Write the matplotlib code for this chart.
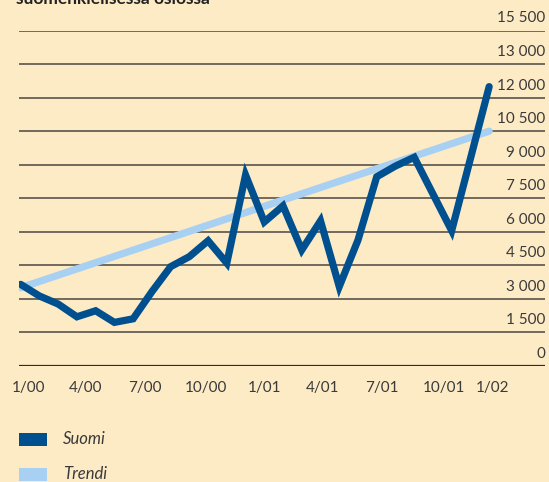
"""Suomi vs. trend line chart on a beige background."""

import matplotlib

matplotlib.use("Agg")

import matplotlib.pyplot as plt
import matplotlib.transforms as mtransforms
from matplotlib.patches import Rectangle


TITLE = "suomenkielisessä osiossa"

# monthly values, 1/00 .. 2/02
SUOMI = [
    3650, 3130, 2770, 2200, 2470, 1950, 2110, 3320, 4440, 4890, 5600, 4600, 8540,
    6440, 7160, 5190, 6490, 3550, 5630, 8460, 8940, 9330, 7690, 6050, 9270, 12490,
]

TREND_START = 3500
TREND_END = 10500

Y_TICKS = [0, 1500, 3000, 4500, 6000, 7500, 9000, 10500, 12000, 13500, 15000]
Y_LABELS = ["0", "1 500", "3 000", "4 500", "6 000", "7 500", "9 000",
            "10 500", "12 000", "13 000", "15 500"]

X_LABELS = ["1/00", "4/00", "7/00", "10/00", "1/01", "4/01", "7/01", "10/01", "1/02"]
X_LABEL_POS = [0.44, 3.44, 6.63, 9.89, 13.0, 16.1, 19.3, 22.6, 25.2]

BG = "#FDEBC6"
DARK = "#00508F"
LIGHT = "#A8D0F2"
TEXT = "#3A3A3A"

plt.rcParams["font.family"] = ["Lato", "DejaVu Sans"]

fig = plt.figure(figsize=(5.49, 4.82), dpi=100)
fig.patch.set_facecolor(BG)

ax = fig.add_axes([19 / 549, 116 / 482, 526 / 549, 335.5 / 482])
ax.set_facecolor(BG)
ax.set_xlim(-0.09, 27.98)
ax.set_ylim(0, 15000)
for s in ax.spines.values():
    s.set_visible(False)
ax.set_xticks([])
ax.set_yticks([])

for v in Y_TICKS:
    ax.axhline(v, color="#2E2A25" if v == 0 else "#4A4640",
               linewidth=1.6 if v == 0 else 1.1, zorder=1)

offset = mtransforms.ScaledTranslation(0, 5 / 100, fig.dpi_scale_trans)
ytrans = ax.get_yaxis_transform() + offset
for v, lab in zip(Y_TICKS, Y_LABELS):
    ax.text(1.0, v, lab, transform=ytrans, ha="right", va="bottom",
            fontsize=11, color=TEXT)

xs = list(range(len(SUOMI)))
ax.plot([xs[0], xs[-1]], [TREND_START, TREND_END], color=LIGHT,
        linewidth=5.2, solid_capstyle="round", zorder=2)
ax.plot(xs, SUOMI, color=DARK, linewidth=5.2, solid_joinstyle="miter",
        solid_capstyle="round", zorder=3)

xtrans = ax.get_xaxis_transform()
for pos, lab in zip(X_LABEL_POS, X_LABELS):
    ax.text(pos, -0.045, lab, transform=xtrans, ha="center", va="top",
            fontsize=11, color=TEXT)

fig.text(16 / 549, 1 - 4.5 / 482, TITLE, ha="left", va="baseline",
         fontsize=12.5, fontweight="bold", color="#222222")

for i, (col, lab) in enumerate([(DARK, "Suomi"), (LIGHT, "Trendi")]):
    y0 = 1 - (445.7 + i * 35) / 482
    fig.patches.append(Rectangle((19 / 549, y0), 28 / 549, 13 / 482,
                                 transform=fig.transFigure, facecolor=col,
                                 edgecolor="none"))
    fig.text(63 / 549, y0 + 6.5 / 482, lab, ha="left", va="center",
             fontsize=12, style="italic", color=TEXT)

fig.savefig("out.png", dpi=100, facecolor=BG)
